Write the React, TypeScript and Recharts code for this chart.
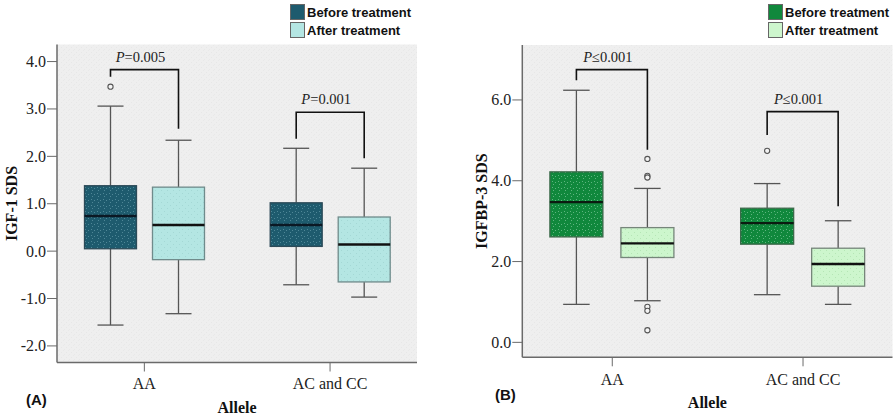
import React from 'react';
import { ComposedChart, Bar, XAxis, YAxis, CartesianGrid, Legend } from 'recharts';

const alleles = ['AA', 'AC and CC'];
const seriesNames = ['Before treatment', 'After treatment'];

// five-number summaries: [min whisker, Q1, median, Q3, max whisker]
const igfBefore = [
  [-1.56, 0.05, 0.74, 1.38, 3.06],
  [-0.71, 0.1, 0.55, 1.02, 2.17],
];
const igfAfter = [
  [-1.32, -0.18, 0.55, 1.35, 2.34],
  [-0.97, -0.65, 0.14, 0.72, 1.75],
];
const igfBeforeOutliers = [[3.47], []];
const igfAfterOutliers = [[], []];
// bracket: [top, left arm end, right arm end]
const igfBrackets = [
  [3.83, 3.68, 2.58],
  [2.93, 2.37, 1.96],
];
const igfP = ['=0.005', '=0.001'];
const igfTicks = [-2, -1, 0, 1, 2, 3, 4];

const bpBefore = [
  [0.94, 2.61, 3.47, 4.22, 6.24],
  [1.18, 2.43, 2.95, 3.32, 3.93],
];
const bpAfter = [
  [1.03, 2.1, 2.45, 2.84, 3.81],
  [0.94, 1.39, 1.94, 2.33, 3.01],
];
const bpBeforeOutliers = [[], [4.74]];
const bpAfterOutliers = [[4.54, 4.12, 4.08, 0.88, 0.78, 0.3], []];
const bpBrackets = [
  [6.75, 6.49, 4.77],
  [5.71, 5.13, 3.37],
];
const bpP = ['\u22640.001', '\u22640.001'];
const bpTicks = [0, 2, 4, 6];

const serif = '"Liberation Serif", "Times New Roman", serif';
const sans = '"Liberation Sans", Arial, sans-serif';

const makeRows = (
  before: number[][],
  after: number[][],
  beforeOut: number[][],
  afterOut: number[][],
  brackets: number[][],
  pText: string[]
) =>
  alleles.map((name, i) => ({
    name,
    before: before[i],
    after: after[i],
    beforeOut: beforeOut[i],
    afterOut: afterOut[i],
    bracket: brackets[i],
    p: pText[i],
  }));

const BoxShape = (props: any) => {
  const { x, y, width, height, payload, series, fill, stroke, medianColor, pitch } = props;
  const s: number[] = payload[series];
  const outs: number[] = payload[series + 'Out'];
  const lo = s[0];
  const hi = s[4];
  // linear map using the bar's own scaled extent (min..max)
  const py = (v: number) => y + (height * (hi - v)) / (hi - lo);
  const cx = x + width / 2;
  const cap = width / 4;
  const wc = '#555';
  let bracket = null;
  if (series === 'after') {
    const [top, l, r] = payload.bracket;
    const lx = cx - pitch;
    bracket = (
      <g>
        <polyline
          points={`${lx},${py(l)} ${lx},${py(top)} ${cx},${py(top)} ${cx},${py(r)}`}
          fill="none"
          stroke="#111"
          strokeWidth={1.6}
        />
        <text x={(lx + cx) / 2 - 4} y={py(top) - 8} textAnchor="middle" fontFamily={serif} fontSize={14.5} fill="#222">
          <tspan fontStyle="italic">P</tspan>
          {payload.p}
        </text>
      </g>
    );
  }
  return (
    <g>
      <line x1={cx} x2={cx} y1={py(hi)} y2={py(s[3])} stroke={wc} strokeWidth={1.3} />
      <line x1={cx} x2={cx} y1={py(s[1])} y2={py(lo)} stroke={wc} strokeWidth={1.3} />
      <line x1={cx - cap} x2={cx + cap} y1={py(hi)} y2={py(hi)} stroke={wc} strokeWidth={1.3} />
      <line x1={cx - cap} x2={cx + cap} y1={py(lo)} y2={py(lo)} stroke={wc} strokeWidth={1.3} />
      <rect x={x} y={py(s[3])} width={width} height={py(s[1]) - py(s[3])} fill={fill} stroke={stroke} strokeWidth={1.3} />
      <line x1={x} x2={x + width} y1={py(s[2])} y2={py(s[2])} stroke={medianColor} strokeWidth={2.4} />
      {outs.map((o, i) => (
        <circle key={i} cx={cx} cy={py(o)} r={2.6} fill="#f4f4f4" stroke={wc} strokeWidth={1.1} />
      ))}
      {bracket}
    </g>
  );
};

const LegendBox = (props: any) => {
  const items = [...(props.payload || [])].sort(
    (a: any, b: any) => seriesNames.indexOf(a.value) - seriesNames.indexOf(b.value)
  );
  return (
    <div style={{ fontFamily: sans, fontWeight: 'bold', fontSize: 13, color: '#111' }}>
      {items.map((p: any) => (
        <div key={p.value} style={{ display: 'flex', alignItems: 'center', height: 18 }}>
          <span
            style={{
              display: 'inline-block',
              width: 13,
              height: 14,
              background: p.color,
              border: '1px solid #666',
              marginRight: 2,
            }}
          />
          {p.value}
        </div>
      ))}
    </div>
  );
};

const YTick = (props: any) => {
  const { x, y, payload } = props;
  return (
    <text x={x} y={y} dy={5.5} textAnchor="end" fontFamily={serif} fontSize={16} fill="#222">
      {Number(payload.value).toFixed(1)}
    </text>
  );
};

const XTick = (props: any) => {
  const { x, y, payload } = props;
  return (
    <text x={x} y={y} dy={11.5} textAnchor="middle" fontFamily={serif} fontSize={16} fill="#222">
      {payload.value}
    </text>
  );
};

interface PanelProps {
  id: string;
  rows: any[];
  width: number;
  margin: { top: number; right: number; bottom: number; left: number };
  yWidth: number;
  domain: [number, number];
  ticks: number[];
  yLabel: string;
  yLabelOffset: number;
  padding: { left: number; right: number };
  barSize: number;
  barGap: number;
  colors: { before: string; beforeDot: string; beforeStroke: string; beforeMedian: string; after: string; afterDot: string; afterStroke: string };
  legendLeft: number;
  tag: string;
  tagX: number;
  tagY: number;
  xTickMargin: number;
}

const Panel = (p: PanelProps) => {
  const axisStroke = '#6a6a6a';
  return (
    <ComposedChart width={p.width} height={419} data={p.rows} margin={p.margin} barSize={p.barSize} barGap={p.barGap}>
      <defs>
        <pattern id={p.id + 'bg'} width="5" height="5" patternUnits="userSpaceOnUse">
          <rect width="5" height="5" fill="#efefef" />
          <rect x="1" y="2" width="1" height="1" fill="#e7e7e7" />
          <rect x="3" y="0" width="1" height="1" fill="#e9e9e9" />
          <rect x="4" y="4" width="1" height="1" fill="#e8e8e8" />
        </pattern>
        <pattern id={p.id + 'b'} width="6" height="6" patternUnits="userSpaceOnUse">
          <rect width="6" height="6" fill={p.colors.before} />
          <rect x="1" y="1" width="1" height="1" fill={p.colors.beforeDot} />
          <rect x="4" y="2" width="1" height="1" fill={p.colors.beforeDot} />
          <rect x="2" y="4" width="1" height="1" fill={p.colors.beforeDot} />
        </pattern>
        <pattern id={p.id + 'a'} width="6" height="6" patternUnits="userSpaceOnUse">
          <rect width="6" height="6" fill={p.colors.after} />
          <rect x="2" y="1" width="1" height="1" fill={p.colors.afterDot} />
          <rect x="5" y="4" width="1" height="1" fill={p.colors.afterDot} />
        </pattern>
      </defs>
      <CartesianGrid horizontal={false} vertical={false} fill={`url(#${p.id}bg)`} fillOpacity={1} />
      <XAxis
        dataKey="name"
        padding={p.padding}
        tickSize={9}
        tickMargin={p.xTickMargin}
        tick={<XTick />}
        stroke={axisStroke}
        axisLine={{ stroke: axisStroke, strokeWidth: 1.5 }}
        height={30}
        label={{ value: 'Allele', position: 'bottom', offset: 9, style: { fontFamily: serif, fontSize: 16, fontWeight: 'bold', fill: '#111' } }}
      />
      <XAxis xAxisId="top" dataKey="name" orientation="top" height={0} tick={false} tickLine={false} axisLine={{ stroke: axisStroke, strokeWidth: 1.5 }} />
      <YAxis
        domain={p.domain}
        ticks={p.ticks}
        interval={0}
        width={p.yWidth}
        tickSize={10}
        tickMargin={1}
        tick={<YTick />}
        stroke={axisStroke}
        axisLine={{ stroke: axisStroke, strokeWidth: 1.5 }}
        label={{
          value: p.yLabel,
          angle: -90,
          position: 'insideLeft',
          offset: p.yLabelOffset,
          style: { textAnchor: 'middle', fontFamily: serif, fontSize: 16, fontWeight: 'bold', fill: '#111' },
        }}
      />
      <YAxis yAxisId="right" orientation="right" width={0} domain={p.domain} tick={false} tickLine={false} axisLine={{ stroke: axisStroke, strokeWidth: 1.5 }} />
      <Legend
        layout="vertical"
        align="center"
        verticalAlign="middle"
        content={<LegendBox />}
        wrapperStyle={{ top: 3, left: p.legendLeft, width: 'auto' }}
      />
      <Bar
        name="Before treatment"
        dataKey={(d: any) => [d.before[0], d.before[4]]}
        fill={p.colors.before}
        legendType="square"
        isAnimationActive={false}
        shape={(sp: any) => (
          <BoxShape
            {...sp}
            series="before"
            fill={`url(#${p.id}b)`}
            stroke={p.colors.beforeStroke}
            medianColor={p.colors.beforeMedian}
            pitch={p.barSize + p.barGap}
          />
        )}
      />
      <Bar
        name="After treatment"
        dataKey={(d: any) => [d.after[0], d.after[4]]}
        fill={p.colors.after}
        legendType="square"
        isAnimationActive={false}
        shape={(sp: any) => (
          <BoxShape
            {...sp}
            series="after"
            fill={`url(#${p.id}a)`}
            stroke={p.colors.afterStroke}
            medianColor="#111"
            pitch={p.barSize + p.barGap}
          />
        )}
      />
      <text x={p.tagX} y={p.tagY} fontFamily={sans} fontWeight="bold" fontSize={15} fill="#111">
        {p.tag}
      </text>
    </ComposedChart>
  );
};

const App = () => {
  const rowsA = makeRows(igfBefore, igfAfter, igfBeforeOutliers, igfAfterOutliers, igfBrackets, igfP);
  const rowsB = makeRows(bpBefore, bpAfter, bpBeforeOutliers, bpAfterOutliers, bpBrackets, bpP);
  return (
    <div style={{ position: 'absolute', left: 0, top: 0, width: 893, height: 419, background: '#fff', overflow: 'hidden' }}>
      <div style={{ position: 'absolute', left: 0, top: 0 }}>
        <Panel
          id="pa"
          rows={rowsA}
          width={430}
          margin={{ top: 44.5, right: 13, bottom: 26.5, left: 7 }}
          yWidth={50}
          domain={[-2.35, 4.36]}
          ticks={igfTicks}
          yLabel="IGF-1 SDS"
          yLabelOffset={4}
          padding={{ left: -5.5, right: -5.9 }}
          barSize={52}
          barGap={16}
          colors={{
            before: '#1e5b6e',
            beforeDot: '#4f8797',
            beforeStroke: '#2c4a58',
            beforeMedian: '#0b1824',
            after: '#b4e6e3',
            afterDot: '#a4d8d5',
            afterStroke: '#6f8b8b',
          }}
          legendLeft={290}
          tag="(A)"
          tagX={26}
          tagY={405}
          xTickMargin={6}
        />
      </div>
      <div style={{ position: 'absolute', left: 443, top: 0 }}>
        <Panel
          id="pb"
          rows={rowsB}
          width={450}
          margin={{ top: 45, right: 0.5, bottom: 31.7, left: 19.3 }}
          yWidth={60}
          domain={[-0.37, 7.36]}
          ticks={bpTicks}
          yLabel="IGFBP-3 SDS"
          yLabelOffset={19}
          padding={{ left: -5.4, right: -5.9 }}
          barSize={53}
          barGap={18}
          colors={{
            before: '#10883c',
            beforeDot: '#5eb57f',
            beforeStroke: '#3d6a4b',
            beforeMedian: '#0b1a10',
            after: '#cdf6cd',
            afterDot: '#b5e6b5',
            afterStroke: '#76867a',
          }}
          legendLeft={325}
          tag="(B)"
          tagX={52}
          tagY={400}
          xTickMargin={7}
        />
      </div>
    </div>
  );
};

export default App;
